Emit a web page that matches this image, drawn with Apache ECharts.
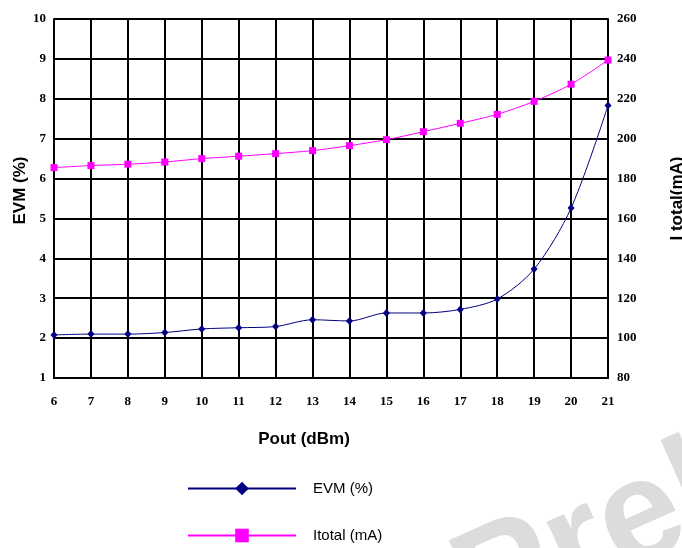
<!DOCTYPE html>
<html>
<head>
<meta charset="utf-8">
<script src="https://cdn.jsdelivr.net/npm/echarts@6/dist/echarts.min.js"></script>
<style>html,body{margin:0;padding:0;background:#fff;}#c{width:682px;height:548px;}</style>
</head>
<body>
<div id="c"></div>
<script>
var pout = [6, 7, 8, 9, 10, 11, 12, 13, 14, 15, 16, 17, 18, 19, 20, 21];
var evm = [2.08, 2.10, 2.10, 2.14, 2.23, 2.26, 2.29, 2.46, 2.43, 2.63, 2.63, 2.72, 2.98, 3.73, 5.26, 7.83];
var itotal = [185.5, 186.5, 187.2, 188.3, 190.0, 191.2, 192.5, 194.0, 196.5, 199.5, 203.5, 207.7, 212.2, 218.7, 227.3, 239.4];

var tickFont = {fontFamily: 'Liberation Serif', fontWeight: 'bold', fontSize: 13, color: '#000'};
var chart = echarts.init(document.getElementById('c'), null, {renderer: 'canvas'});
chart.setOption({
  animation: false,
  backgroundColor: '#fff',
  grid: {left: 54, right: 74, top: 19, bottom: 170, containLabel: false, outerBoundsMode: 'none'},
  xAxis: {
    type: 'value', min: 6, max: 21, interval: 1,
    name: 'Pout (dBm)', nameLocation: 'middle', nameGap: 53,
    nameTextStyle: {fontFamily: 'Liberation Sans', fontWeight: 'bold', fontSize: 17, color: '#000', padding: [0, 54, 0, 0]},
    axisLine: {show: true, lineStyle: {color: '#000', width: 2}},
    axisTick: {show: false},
    splitLine: {show: true, lineStyle: {color: '#000', width: 2}},
    axisLabel: Object.assign({margin: 17}, tickFont)
  },
  yAxis: [{
    type: 'value', min: 1, max: 10, interval: 1,
    name: 'EVM (%)', nameLocation: 'middle', nameGap: 25, nameRotate: 90, nameMoveOverlap: false,
    nameTextStyle: {fontFamily: 'Liberation Sans', fontWeight: 'bold', fontSize: 17, color: '#000', padding: [0, 0, 0, 16]},
    axisLine: {show: true, lineStyle: {color: '#000', width: 2}},
    axisTick: {show: false},
    splitLine: {show: true, lineStyle: {color: '#000', width: 2}},
    axisLabel: Object.assign({margin: 8}, tickFont)
  }, {
    type: 'value', min: 80, max: 260, interval: 20,
    name: 'I total(mA)', nameLocation: 'middle', nameGap: 61, nameRotate: 90,
    nameTextStyle: {fontFamily: 'Liberation Sans', fontWeight: 'bold', fontSize: 17, color: '#000'},
    axisLine: {show: true, lineStyle: {color: '#000', width: 2}},
    axisTick: {show: false},
    splitLine: {show: false},
    axisLabel: Object.assign({margin: 9}, tickFont)
  }],
  legend: {
    orient: 'vertical', left: 187, top: 481, padding: 0, height: 70,
    itemWidth: 108, itemHeight: 17, itemGap: 32,
    textStyle: {fontFamily: 'Liberation Sans', fontSize: 15, color: '#000', padding: [0, 0, 0, 12]},
    data: ['EVM (%)', 'Itotal (mA)']
  },
  series: [{
    name: 'EVM (%)', type: 'line', yAxisIndex: 0, smooth: 0.3,
    data: pout.map(function (x, i) { return [x, evm[i]]; }),
    symbol: 'diamond', symbolSize: [7, 8],
    lineStyle: {color: '#000080', width: 1},
    itemStyle: {color: '#000080'},
    z: 3
  }, {
    name: 'Itotal (mA)', type: 'line', yAxisIndex: 1, smooth: 0.3,
    data: pout.map(function (x, i) { return [x, itotal[i]]; }),
    symbol: 'rect', symbolSize: 7,
    lineStyle: {color: '#ff00ff', width: 1},
    itemStyle: {color: '#ff00ff'},
    z: 3
  }],
  graphic: [{
    type: 'text', x: 494, y: 665, rotation: 0.42, z: 0,
    style: {text: 'Preliminary', fill: '#dcdcdc', font: 'bold 145px "Liberation Sans"', textVerticalAlign: 'bottom'}
  }]
});
</script>
</body>
</html>
